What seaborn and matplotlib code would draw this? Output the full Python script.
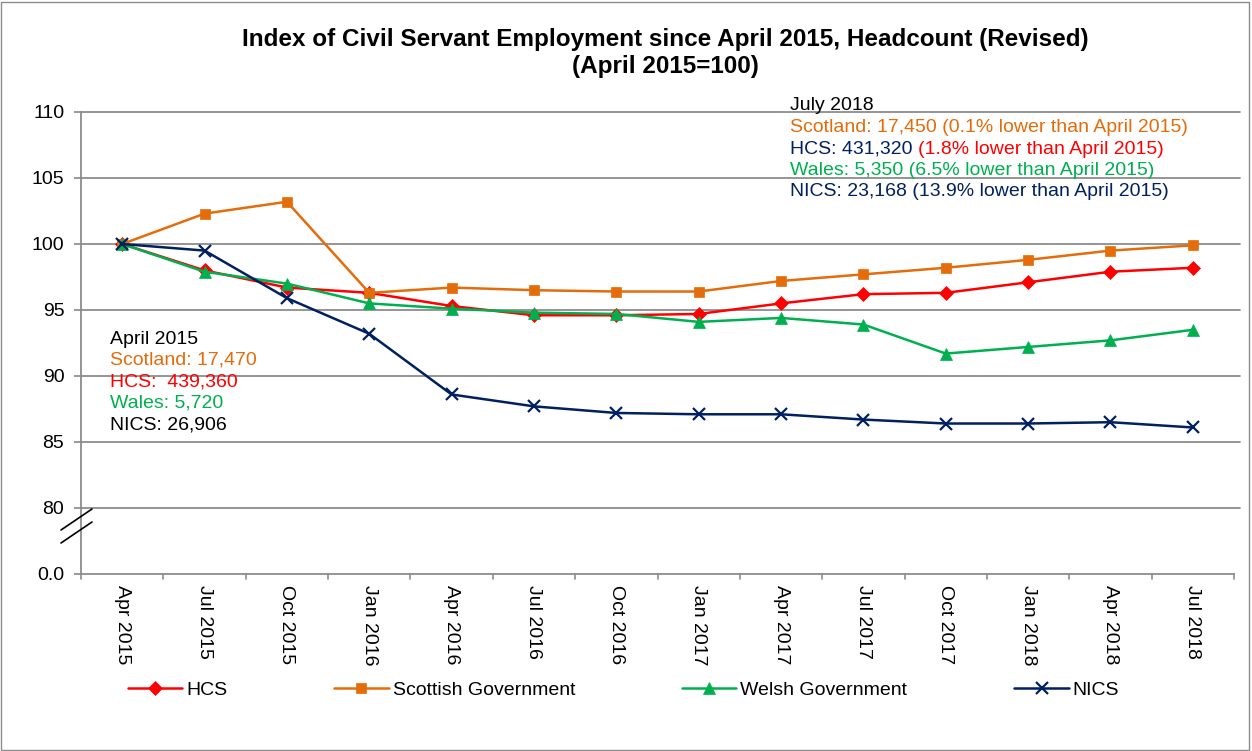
import matplotlib
matplotlib.use("Agg")
import matplotlib.pyplot as plt
import seaborn as sns
import pandas as pd
from matplotlib.lines import Line2D
from matplotlib.patches import Rectangle

periods = ["Apr 2015", "Jul 2015", "Oct 2015", "Jan 2016", "Apr 2016", "Jul 2016", "Oct 2016",
           "Jan 2017", "Apr 2017", "Jul 2017", "Oct 2017", "Jan 2018", "Apr 2018", "Jul 2018"]
hcs = [100, 98.0, 96.7, 96.3, 95.3, 94.6, 94.6, 94.7, 95.5, 96.2, 96.3, 97.1, 97.9, 98.2]
scottish = [100, 102.3, 103.2, 96.3, 96.7, 96.5, 96.4, 96.4, 97.2, 97.7, 98.2, 98.8, 99.5, 99.9]
welsh = [100, 97.9, 97.0, 95.5, 95.1, 94.8, 94.7, 94.1, 94.4, 93.9, 91.7, 92.2, 92.7, 93.5]
nics = [100, 99.5, 95.9, 93.2, 88.6, 87.7, 87.2, 87.1, 87.1, 86.7, 86.4, 86.4, 86.5, 86.1]

y_ticks = [75, 80, 85, 90, 95, 100, 105, 110]
y_labels = ["0.0", "80", "85", "90", "95", "100", "105", "110"]

series = [
    ("HCS", hcs, "#FF0000", "D", 7),
    ("Scottish Government", scottish, "#E46C0A", "s", 7),
    ("Welsh Government", welsh, "#00B050", "^", 8.5),
    ("NICS", nics, "#002060", "x", 9),
]

sns.set_theme(style="white")
plt.rcParams["font.family"] = ["Liberation Sans", "DejaVu Sans"]
plt.rcParams["text.color"] = "black"
plt.rcParams["xtick.color"] = "black"
plt.rcParams["ytick.color"] = "black"

FS = 14

fig = plt.figure(figsize=(12.52, 7.51), dpi=100)
ax = fig.add_axes([81 / 1252, 1 - 574 / 751, (1234 - 81) / 1252, (574 - 112) / 751])

for name, vals, col, mk, ms in series:
    df = pd.DataFrame({"period": periods, "value": vals})
    sns.lineplot(data=df, x="period", y="value", ax=ax, color=col, marker=mk,
                 markersize=ms, markeredgecolor=col, markeredgewidth=1.6 if mk == "x" else 0.5,
                 linewidth=1.8, label=name, sort=False, zorder=3)

ax.set_xlim(-0.5, len(periods) - 0.5)
ax.set_ylim(75, 110)
ax.set_yticks(y_ticks)
ax.set_yticklabels(y_labels, fontsize=FS)
for y in y_ticks[1:]:
    ax.axhline(y, color="#8c8c8c", lw=1.3, zorder=1, xmax=1.005, clip_on=False)
ax.grid(False)
ax.set_xlabel("")
ax.set_ylabel("")
ax.set_xticks(range(len(periods)))
ax.set_xticklabels(periods, rotation=-90, fontsize=FS, va="top")
ax.tick_params(axis="x", length=0, pad=8)
ax.tick_params(axis="y", length=5, color="#8c8c8c", labelcolor="black", direction="out", pad=7, left=True)
for x in range(len(periods) + 1):
    ax.add_line(Line2D([x - 0.5, x - 0.5], [0, -0.011], transform=ax.get_xaxis_transform(),
                       color="#8c8c8c", lw=1.2, clip_on=False))
for side in ["top", "right"]:
    ax.spines[side].set_visible(False)
for side in ["left", "bottom"]:
    ax.spines[side].set_color("#8c8c8c")
    ax.spines[side].set_linewidth(1.3)

# axis break marks
for y0 in [509, 522]:
    fig.add_artist(Line2D([61 / 1252, 92 / 1252], [1 - (y0 + 21) / 751, 1 - y0 / 751],
                          color="black", lw=1.2))

ax.get_legend().remove()
handles, labels = ax.get_legend_handles_labels()
fig.legend(handles, labels, loc="center", ncol=4, bbox_to_anchor=(0.498, 1 - 690 / 751),
           frameon=False, fontsize=FS, handlelength=2.8, handletextpad=0.2, columnspacing=5.5)

fig.text(665 / 1252, 1 - 53 / 751,
         "Index of Civil Servant Employment since April 2015, Headcount (Revised)\n(April 2015=100)",
         ha="center", va="center", fontsize=17.5, fontweight="bold", linespacing=1.25)

# April 2015 note
apr_lines = [("April 2015", "black"), ("Scotland: 17,470", "#E46C0A"), ("HCS:  439,360", "#FF0000"),
             ("Wales: 5,720", "#00B050"), ("NICS: 26,906", "black")]
for i, (t, c) in enumerate(apr_lines):
    fig.text(110 / 1252, 1 - (339 + i * 21.5) / 751, t, color=c, fontsize=FS, va="center")

# July 2018 note
jul_lines = [("July 2018", "black"), ("Scotland: 17,450 (0.1% lower than April 2015)", "#E46C0A"),
             None, ("Wales: 5,350 (6.5% lower than April 2015)", "#00B050"),
             ("NICS: 23,168 (13.9% lower than April 2015)", "#002060")]
for i, item in enumerate(jul_lines):
    y = 1 - (106 + i * 21.5) / 751
    if item is None:
        t1 = fig.text(790 / 1252, y, "HCS: 431,320 ", color="#002060", fontsize=FS, va="center")
        fig.canvas.draw()
        bb = t1.get_window_extent()
        fig.text(bb.x1 / fig.bbox.width, y, "(1.8% lower than April 2015)", color="#FF0000",
                 fontsize=FS, va="center")
    else:
        fig.text(790 / 1252, y, item[0], color=item[1], fontsize=FS, va="center")

fig.add_artist(Rectangle((0.001, 0.001), 0.997, 0.997, transform=fig.transFigure, fill=False,
                         edgecolor="#8c8c8c", lw=1))

fig.savefig("out.png", dpi=100)
